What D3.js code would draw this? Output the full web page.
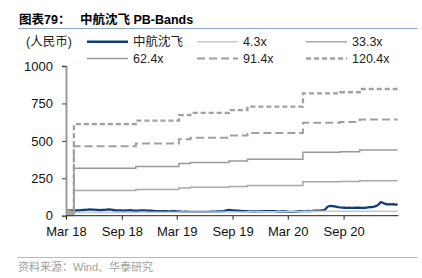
<!DOCTYPE html>
<html><head><meta charset="utf-8">
<script src="https://cdn.jsdelivr.net/npm/d3@7"></script>
<style>
body{margin:0;background:#fff;}
text{font-family:"Liberation Sans",Arial,"Noto Sans CJK SC",sans-serif;}
</style></head>
<body><svg id="c" width="422" height="278"></svg>
<script>
// ---- data ----
const priceStart = "2018-03-02"; // weekly (Fridays)
const priceValues = [
 36,37,36,35,34, 35,36,37,38, 39,41,42,41, 40,39,38,37,38, 39,41,42,40, 38,36,35,36,35,
 34,35,36,37, 36,34,33,34, 35,36,35,34,33, 33,32,31,31,
 30,30,31,30, 29,29,30,31, 29,28,27,26,27, 27,26,25,26, 25,25,26,26,25, 26,26,27,27, 27,28,28,29,
 31,34,37,38,36, 35,34,33,32, 31,30,30,29, 29,28,28,29,29, 29,30,30,30,
 30,31,30,29,27, 28,29,28,27, 26,25,26,27, 28,29,30,30, 31,32,31,32,33, 33,34,35,36,
 42,60,65,64,63, 60,57,55,54, 53,52,53,52, 52,53,54,53,52, 52,53,55,57, 58,61,65,74,
 90,87,80,76,77, 75,77,74,76
];
const bvpsDates  = ["2018-03-01","2018-03-27","2018-10-17","2019-03-08","2019-04-15","2019-08-20","2019-10-20","2020-04-20","2020-08-20","2020-10-24","2021-02-26"];
const bvpsValues = [0.3, 5.08, 5.27, 5.58, 5.70, 5.86, 6.05, 6.79, 6.85, 7.03, 7.03];
const multiples  = [4.3, 33.3, 62.4, 91.4, 120.4];
const bandLabels = ["4.3x","33.3x","62.4x","91.4x","120.4x"];
const priceLabel = "中航沈飞";
const yTicks = [0,250,500,750,1000];
const xTickDates = ["2018-03-01","2018-09-01","2019-03-01","2019-09-01","2020-03-01","2020-09-01"];
const xTickLabels = ["Mar 18","Sep 18","Mar 19","Sep 19","Mar 20","Sep 20"];

// ---- styles ----
const bandStyle = [
 {color:"#c8c8c8", w:1.5, dash:null},
 {color:"#a8a8a8", w:1.5, dash:null},
 {color:"#9a9a9a", w:1.5, dash:null},
 {color:"#a0a0a0", w:2,   dash:"8,4"},
 {color:"#a0a0a0", w:2.3, dash:"5,3"}
];
const blue = "#0e3d7e";

const parse = d3.utcParse("%Y-%m-%d");
const svg = d3.select("#c");

const x = d3.scaleUtc().domain([parse("2018-03-01"), parse("2021-03-01")]).range([66, 398.5]);
const y = d3.scaleLinear().domain([0,1000]).range([215.7, 66]);

// price series
const t0 = parse(priceStart);
const price = priceValues.map((v,i)=>({d:d3.utcDay.offset(t0, i*7), v}));
const bv = bvpsDates.map((s,i)=>({d:parse(s), v:bvpsValues[i]}));

// title
svg.append("text").attr("x",19).attr("y",24).attr("font-size",12.5).attr("font-weight","bold").attr("fill","#000").text("图表79：");
svg.append("text").attr("x",80).attr("y",24).attr("font-size",12.5).attr("font-weight","bold").attr("fill","#000").text("中航沈飞 PB-Bands");
svg.append("line").attr("x1",18).attr("x2",417).attr("y1",28.5).attr("y2",28.5).attr("stroke","#8fa9c9").attr("stroke-width",1);

// footer
svg.append("line").attr("x1",18).attr("x2",417).attr("y1",257.5).attr("y2",257.5).attr("stroke","#a9bcd6").attr("stroke-width",1);
svg.append("text").attr("x",18).attr("y",271).attr("font-size",11).attr("fill","#a0a0a0").text("资料来源：Wind、华泰研究");

// legend
svg.append("text").attr("x",26).attr("y",46).attr("font-size",12.5).attr("fill","#222").text("(人民币)");
const legItems = [
 {label:priceLabel, x:87, y:41.7, color:blue, w:2.6, dash:null},
 {label:bandLabels[0], x:197, y:41.7, ...bandStyle[0]},
 {label:bandLabels[1], x:306, y:41.7, ...bandStyle[1]},
 {label:bandLabels[2], x:87, y:58.5, ...bandStyle[2]},
 {label:bandLabels[3], x:197, y:58.5, ...bandStyle[3]},
 {label:bandLabels[4], x:306, y:58.5, ...bandStyle[4]}
];
legItems.forEach(it=>{
  svg.append("line").attr("x1",it.x).attr("x2",it.x+41).attr("y1",it.y).attr("y2",it.y)
    .attr("stroke",it.color).attr("stroke-width",it.w).attr("stroke-dasharray",it.dash);
  svg.append("text").attr("x",it.x+46).attr("y",it.y+4.5).attr("font-size",12.5).attr("fill","#222").text(it.label);
});

// axes
const yAxis = d3.axisLeft(y).tickValues(yTicks).tickSize(4).tickPadding(9).tickFormat(d3.format("d"));
const gy = svg.append("g").attr("transform","translate(66,0)").call(yAxis);
gy.select(".domain").attr("stroke","#999").attr("stroke-width",2);
gy.selectAll(".tick line").attr("stroke","#444");
gy.selectAll(".tick text").attr("font-size",13).attr("fill","#111").attr("font-family",null);

// lines
const priceLine = d3.line().x(d=>x(d.d)).y(d=>y(d.v));
svg.append("path").datum(price).attr("d",priceLine).attr("fill","none").attr("stroke",blue).attr("stroke-width",2.3).attr("stroke-linejoin","round");

multiples.forEach((m,i)=>{
  const st = bandStyle[i];
  const ln = d3.line().curve(d3.curveStepAfter).x(d=>x(d.d)).y(d=>y(d.v*m));
  svg.append("path").datum(bv).attr("d",ln).attr("fill","none")
    .attr("stroke",st.color).attr("stroke-width",st.w).attr("stroke-dasharray",st.dash);
});

const xAxis = d3.axisBottom(x).tickValues(xTickDates.map(parse)).tickSize(4).tickPadding(7)
  .tickFormat((d,i)=>xTickLabels[i]);
const gx = svg.append("g").attr("transform","translate(0,215.7)").call(xAxis);
gx.select(".domain").attr("stroke","#222").attr("stroke-width",1).attr("d","M66,0H398.5");
gx.selectAll(".tick line").attr("stroke","#222");
gx.selectAll(".tick text").attr("font-size",13).attr("fill","#111").attr("font-family",null);
</script></body></html>
